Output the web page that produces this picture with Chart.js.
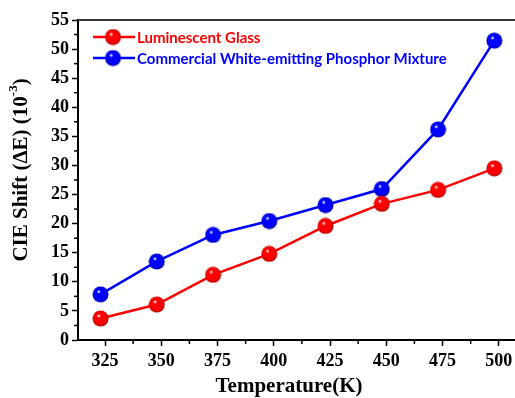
<!DOCTYPE html>
<html><head><meta charset="utf-8">
<script src="https://cdn.jsdelivr.net/npm/chart.js@4"></script>
<style>html,body{margin:0;padding:0;background:#fff}</style>
</head><body>
<canvas id="c" width="515" height="398"></canvas>
<script>
// Temperatures (K) and CIE colour shift (x10^-3) of both samples
const temperatures = [323, 348, 373, 398, 423, 448, 473, 498];
const glassShift = [3.7, 6.1, 11.2, 14.8, 19.6, 23.4, 25.8, 29.5];
const phosphorShift = [7.85, 13.5, 18.05, 20.45, 23.2, 25.95, 36.2, 51.45];
const seriesNames = ['Luminescent Glass', 'Commercial White-emitting Phosphor Mixture'];
const xTickValues = [325, 350, 375, 400, 425, 450, 475, 500];
const yTickValues = [0, 5, 10, 15, 20, 25, 30, 35, 40, 45, 50, 55];

// shaded ball marker
function sphere(color, dark) {
  const c = document.createElement('canvas');
  c.width = 17; c.height = 17;
  const g = c.getContext('2d');
  const grad = g.createRadialGradient(6.5, 5.5, 0.5, 8.5, 8.5, 8.2);
  grad.addColorStop(0, '#ffffff');
  grad.addColorStop(0.18, color);
  grad.addColorStop(0.75, color);
  grad.addColorStop(1, dark);
  g.fillStyle = grad;
  g.beginPath(); g.arc(8.5, 8.5, 8, 0, Math.PI * 2); g.fill();
  return c;
}
const redBall = sphere('#ff0000', '#a00000');
const blueBall = sphere('#0000ff', '#0000a0');

const serif = "'Liberation Serif', 'Times New Roman', serif";

const extras = {
  id: 'extras',
  afterDraw(chart) {
    const ctx = chart.ctx, a = chart.chartArea;
    const xs = chart.scales.x, ys = chart.scales.y;
    ctx.save();
    // top frame line
    ctx.strokeStyle = '#333'; ctx.lineWidth = 2;
    ctx.beginPath(); ctx.moveTo(a.left, a.top); ctx.lineTo(a.right, a.top); ctx.stroke();
    // minor ticks
    ctx.strokeStyle = '#000'; ctx.lineWidth = 1.5;
    for (let v = 337.5; v < xs.max; v += 25) {
      const px = xs.getPixelForValue(v);
      ctx.beginPath(); ctx.moveTo(px, a.bottom); ctx.lineTo(px, a.bottom + 4); ctx.stroke();
    }
    for (let v = 2.5; v < 55; v += 5) {
      const py = ys.getPixelForValue(v);
      ctx.beginPath(); ctx.moveTo(a.left, py); ctx.lineTo(a.left - 4, py); ctx.stroke();
    }
    // axis titles
    ctx.fillStyle = '#000';
    ctx.font = 'bold 21px ' + serif;
    ctx.textAlign = 'center'; ctx.textBaseline = 'middle';
    ctx.fillText('Temperature(K)', 289, 387);
    ctx.translate(22, 170);
    ctx.rotate(-Math.PI / 2);
    const main = 'CIE Shift (ΔE) (10';
    ctx.font = 'bold 21px ' + serif;
    const w1 = ctx.measureText(main).width;
    ctx.font = 'bold 13px ' + serif;
    const w2 = ctx.measureText('-3').width;
    ctx.font = 'bold 21px ' + serif;
    const w3 = ctx.measureText(')').width;
    let x0 = -(w1 + w2 + w3) / 2;
    ctx.textAlign = 'left';
    ctx.fillText(main, x0, 0);
    ctx.font = 'bold 13px ' + serif;
    ctx.fillText('-3', x0 + w1, -8);
    ctx.font = 'bold 21px ' + serif;
    ctx.fillText(')', x0 + w1 + w2, 0);
    ctx.setTransform(1, 0, 0, 1, 0, 0);
    // legend
    const rows = [[37, '#ff0000', redBall], [58, '#0000ff', blueBall]];
    ctx.font = "bold 15px Lato, 'Open Sans', sans-serif";
    ctx.textBaseline = 'middle'; ctx.textAlign = 'left';
    rows.forEach((r, i) => {
      const [y, col, ball] = r;
      ctx.strokeStyle = col; ctx.lineWidth = 2.5;
      ctx.beginPath(); ctx.moveTo(93, y); ctx.lineTo(135, y); ctx.stroke();
      ctx.drawImage(ball, 113 - ball.width / 2, y - ball.height / 2);
      ctx.fillStyle = col;
      ctx.fillText(chart.data.datasets[i].label, 137, y + 1);
    });
    ctx.restore();
  }
};

new Chart(document.getElementById('c'), {
  type: 'line',
  data: {
    datasets: [
      {
        label: seriesNames[0],
        data: temperatures.map((t, i) => ({ x: t, y: glassShift[i] })),
        borderColor: '#ff0000', borderWidth: 2.5,
        pointStyle: redBall, pointRadius: 8, clip: false
      },
      {
        label: seriesNames[1],
        data: temperatures.map((t, i) => ({ x: t, y: phosphorShift[i] })),
        borderColor: '#0000ff', borderWidth: 2.5,
        pointStyle: blueBall, pointRadius: 8, clip: false
      }
    ]
  },
  options: {
    responsive: false, animation: false, devicePixelRatio: 1,
    layout: { autoPadding: false, padding: { top: 20, right: 0, left: 0, bottom: 0 } },
    plugins: { legend: { display: false }, tooltip: { enabled: false } },
    scales: {
      x: {
        type: 'linear', min: 313, max: 507.2,
        afterBuildTicks: s => { s.ticks = xTickValues.map(v => ({ value: v })); },
        afterFit: s => { s.height = 58; s.paddingRight = 0; s.paddingLeft = 0; },
        grid: { drawOnChartArea: false, drawTicks: true, tickLength: 6, tickWidth: 1.5, tickColor: '#000' },
        border: { display: true, color: '#000', width: 2 },
        ticks: { color: '#000', padding: 5, maxRotation: 0, font: { family: serif, weight: 'bold', size: 18 } }
      },
      y: {
        min: 0, max: 55,
        afterBuildTicks: s => { s.ticks = yTickValues.map(v => ({ value: v })); },
        afterFit: s => { s.width = 78; s.paddingTop = 0; s.paddingBottom = 0; },
        grid: { drawOnChartArea: false, drawTicks: true, tickLength: 6, tickWidth: 1.5, tickColor: '#000' },
        border: { display: true, color: '#000', width: 2 },
        ticks: { color: '#000', padding: 3, font: { family: serif, weight: 'bold', size: 18 } }
      }
    }
  },
  plugins: [extras]
});
</script>
</body></html>
